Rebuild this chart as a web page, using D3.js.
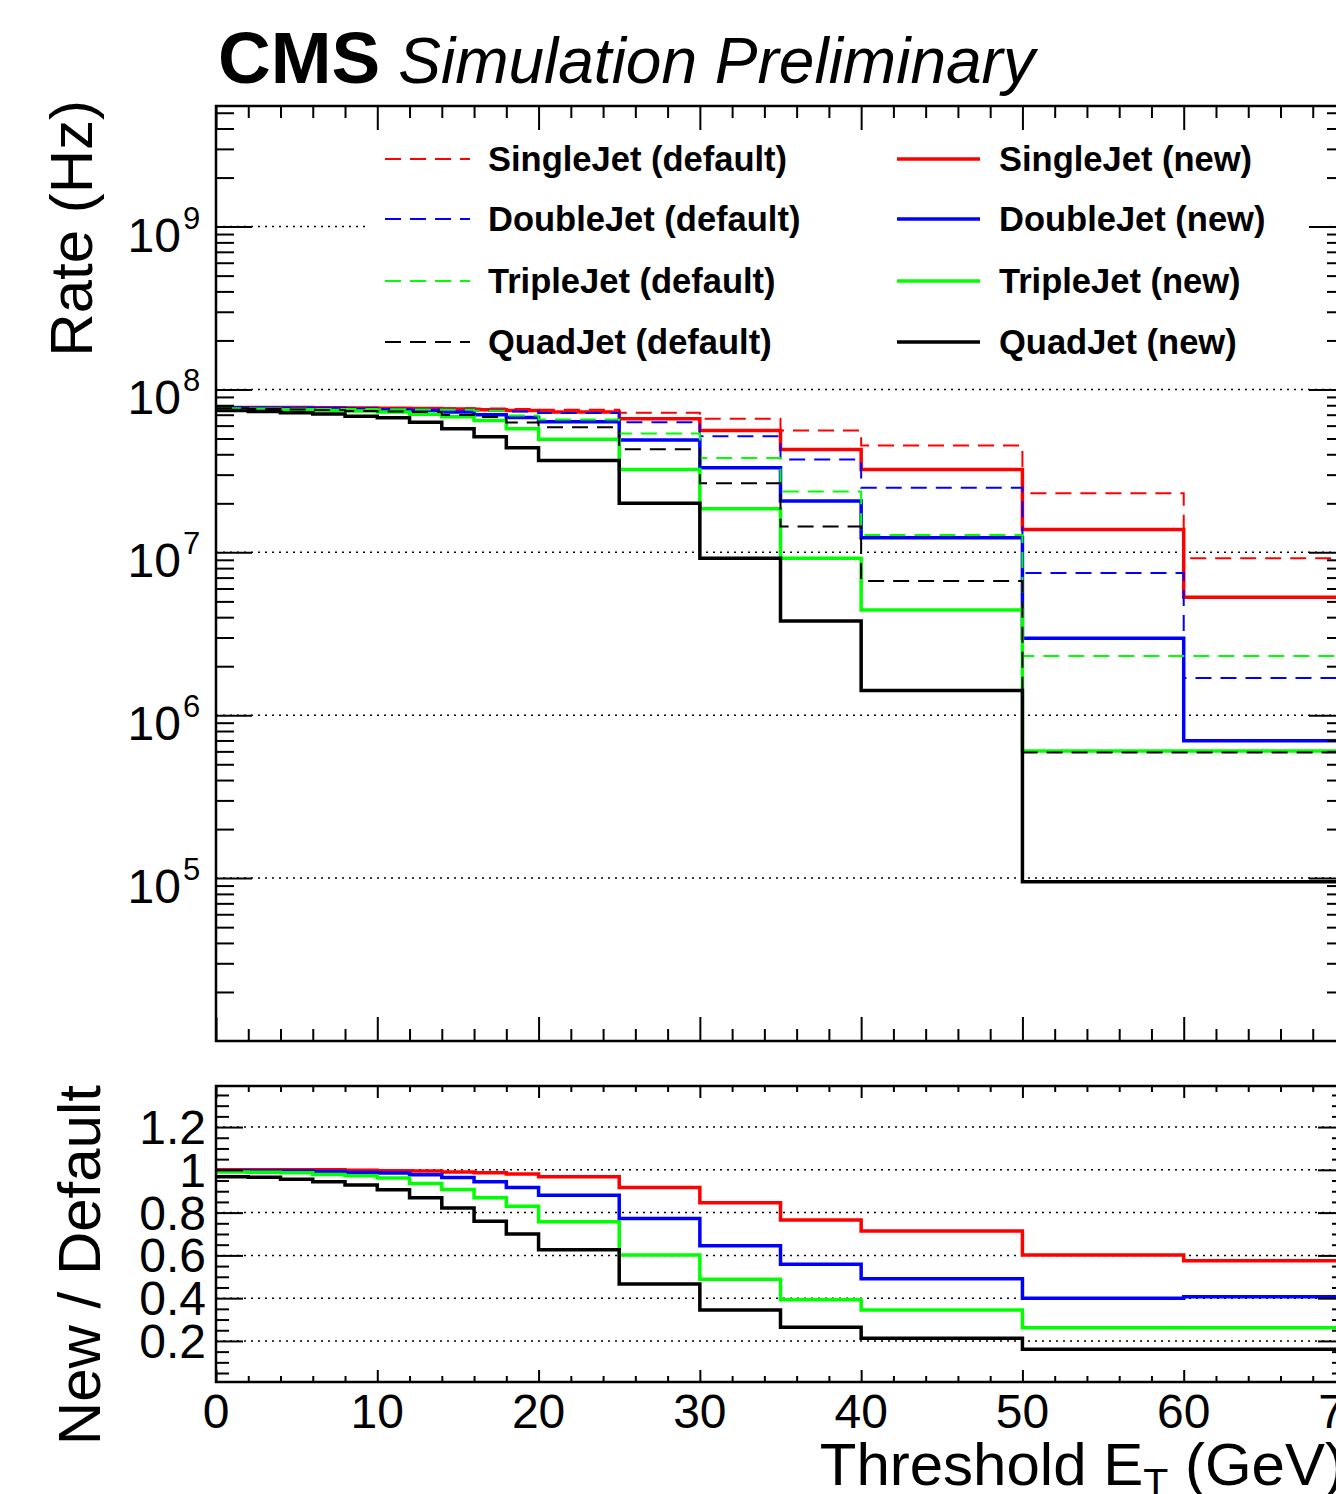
<!DOCTYPE html>
<html>
<head>
<meta charset="utf-8">
<script src="https://cdn.jsdelivr.net/npm/d3@7"></script>
<style>
  body { margin: 0; background: #fff; }
  svg { display: block; }
  text { font-family: 'Liberation Sans', Arial, Helvetica, sans-serif; fill: #000; }
</style>
</head>
<body>
<svg width="1336" height="1494"></svg>
<script>
// bin edges of the threshold histograms (GeV)
const edges = [0, 2, 4, 6, 8, 10, 12, 14, 16, 18, 20, 25, 30, 35, 40, 50, 60, 70];

// rates (Hz), one value per bin
const singleDefault = [7.75e7, 7.75e7, 7.74e7, 7.73e7, 7.72e7, 7.70e7, 7.68e7, 7.66e7, 7.63e7, 7.60e7, 7.52e7, 7.20e7, 6.61e7, 5.60e7, 4.53e7, 2.31e7, 9.19e6];
const singleNew     = [7.75e7, 7.75e7, 7.74e7, 7.73e7, 7.70e7, 7.67e7, 7.63e7, 7.58e7, 7.52e7, 7.43e7, 7.28e7, 6.61e7, 5.60e7, 4.28e7, 3.23e7, 1.38e7, 5.30e6];
const doubleDefault = [7.74e7, 7.73e7, 7.71e7, 7.69e7, 7.66e7, 7.62e7, 7.57e7, 7.50e7, 7.42e7, 7.33e7, 7.18e7, 6.30e7, 5.17e7, 3.72e7, 2.49e7, 7.46e6, 1.69e6];
const doubleNew     = [7.71e7, 7.69e7, 7.66e7, 7.63e7, 7.57e7, 7.51e7, 7.42e7, 7.26e7, 7.00e7, 6.73e7, 6.33e7, 4.89e7, 3.31e7, 2.07e7, 1.23e7, 2.97e6, 6.96e5];
const tripleDefault = [7.66e7, 7.64e7, 7.62e7, 7.60e7, 7.59e7, 7.57e7, 7.54e7, 7.51e7, 7.41e7, 6.92e7, 6.55e7, 5.37e7, 3.79e7, 2.36e7, 1.28e7, 2.31e6, 2.31e6];
const tripleNew     = [7.58e7, 7.55e7, 7.51e7, 7.43e7, 7.38e7, 7.28e7, 7.05e7, 6.80e7, 6.45e7, 5.74e7, 4.95e7, 3.23e7, 1.85e7, 9.20e6, 4.43e6, 6.04e5, 6.04e5];
const quadDefault   = [7.68e7, 7.60e7, 7.54e7, 7.47e7, 7.38e7, 7.33e7, 7.26e7, 6.97e7, 6.77e7, 6.28e7, 5.87e7, 4.29e7, 2.66e7, 1.44e7, 6.67e6, 5.90e5, 5.90e5];
const quadNew       = [7.43e7, 7.33e7, 7.20e7, 7.06e7, 6.86e7, 6.71e7, 6.30e7, 5.74e7, 5.13e7, 4.39e7, 3.67e7, 2.00e7, 9.19e6, 3.79e6, 1.42e6, 9.49e4, 9.49e4];

// new / default
const singleRatio = [1.0, 1.0, 1.0, 1.0, 0.998, 0.996, 0.994, 0.99, 0.986, 0.98, 0.968, 0.918, 0.846, 0.765, 0.714, 0.602, 0.575];
const doubleRatio = [0.996, 0.995, 0.994, 0.992, 0.988, 0.985, 0.977, 0.964, 0.944, 0.918, 0.881, 0.773, 0.645, 0.558, 0.491, 0.40, 0.407];
const tripleRatio = [0.990, 0.989, 0.986, 0.978, 0.972, 0.962, 0.936, 0.908, 0.870, 0.830, 0.757, 0.602, 0.488, 0.392, 0.345, 0.262, 0.262];
const quadRatio   = [0.968, 0.965, 0.956, 0.944, 0.929, 0.907, 0.870, 0.821, 0.760, 0.700, 0.626, 0.466, 0.345, 0.264, 0.213, 0.161, 0.161];

const names  = ['SingleJet', 'DoubleJet', 'TripleJet', 'QuadJet'];
const colors = ['#ff0000', '#0000ff', '#00ff00', '#000000'];

const rateTicks  = [1e5, 1e6, 1e7, 1e8, 1e9];
const ratioTicks = [0.2, 0.4, 0.6, 0.8, 1.0, 1.2];
const xTicks     = [0, 10, 20, 30, 40, 50, 60, 70];

const series = names.map((name, i) => ({
    name: name,
    color: colors[i],
    def: [singleDefault, doubleDefault, tripleDefault, quadDefault][i],
    nw: [singleNew, doubleNew, tripleNew, quadNew][i],
    ratio: [singleRatio, doubleRatio, tripleRatio, quadRatio][i]
}));

const svg = d3.select('svg');

const left = 216, right = 1345;
const topY0 = 106, topY1 = 1041;
const botY0 = 1086, botY1 = 1382;

const x  = d3.scaleLinear().domain([0, 70]).range([left, right]);
const y  = d3.scaleLog().domain([1e4, 5.5e9]).range([topY1, topY0]);
const yr = d3.scaleLinear().domain([0.008, 1.392]).range([botY1, botY0]);

function stepPath(yScale, vals) {
    const pts = vals.map((v, i) => [edges[i], v]);
    pts.push([edges[edges.length - 1], vals[vals.length - 1]]);
    return d3.line()
        .x(d => x(d[0]))
        .y(d => yScale(d[1]))
        .curve(d3.curveStepAfter)(pts);
}

function ticks(axis, transform, values, size) {
    svg.append('g')
        .attr('transform', transform)
        .call(axis.tickValues(values).tickSize(size).tickFormat(''))
        .call(g => g.select('.domain').remove())
        .call(g => g.selectAll('line').attr('stroke', '#000').attr('stroke-width', 2));
}

// clip regions
const defs = svg.append('defs');
defs.append('clipPath').attr('id', 'clipTop').append('rect')
    .attr('x', left).attr('y', topY0).attr('width', right - left).attr('height', topY1 - topY0);
defs.append('clipPath').attr('id', 'clipBot').append('rect')
    .attr('x', left).attr('y', botY0).attr('width', right - left).attr('height', botY1 - botY0);

// ---------- top pad ----------
svg.append('g').selectAll('line')
    .data(rateTicks)
    .join('line')
    .attr('x1', left).attr('x2', right)
    .attr('y1', d => y(d)).attr('y2', d => y(d))
    .attr('stroke', '#000').attr('stroke-width', 1.5)
    .attr('stroke-dasharray', '2,5');

// legend background hides the grid behind it
svg.append('rect')
    .attr('x', 368).attr('y', 128).attr('width', 962).attr('height', 240)
    .attr('fill', '#fff');

const gTop = svg.append('g').attr('clip-path', 'url(#clipTop)');
series.forEach(s => {
    gTop.append('path')
        .attr('d', stepPath(y, s.nw))
        .attr('fill', 'none').attr('stroke', s.color).attr('stroke-width', 3.5);
});
series.forEach(s => {
    gTop.append('path')
        .attr('d', stepPath(y, s.def))
        .attr('fill', 'none').attr('stroke', s.color).attr('stroke-width', 2)
        .attr('stroke-dasharray', '16,9');
});

// log ticks
const logMinor = [];
for (let e = 4; e <= 9; e++) {
    for (let m = 2; m <= 9; m++) {
        const v = m * Math.pow(10, e);
        if (v < 5.5e9) logMinor.push(v);
    }
}
const xMinor = d3.range(0, 71, 2).filter(d => d % 10 !== 0);

ticks(d3.axisLeft(y), `translate(${left},0)`, logMinor, -18);
ticks(d3.axisLeft(y), `translate(${left},0)`, rateTicks, -36);
ticks(d3.axisRight(y), `translate(${right},0)`, logMinor, -18);
ticks(d3.axisRight(y), `translate(${right},0)`, rateTicks, -36);
ticks(d3.axisBottom(x), `translate(0,${topY1})`, xMinor, -12);
ticks(d3.axisBottom(x), `translate(0,${topY1})`, xTicks, -24);
ticks(d3.axisTop(x), `translate(0,${topY0})`, xMinor, -12);
ticks(d3.axisTop(x), `translate(0,${topY0})`, xTicks, -24);

// y labels 10^n
const yl = svg.append('g').selectAll('g').data(rateTicks).join('g');
yl.append('text')
    .attr('x', 181).attr('y', d => y(d) + 25)
    .attr('text-anchor', 'end').attr('font-size', 48)
    .text('10');
yl.append('text')
    .attr('x', 183).attr('y', d => y(d) + 2)
    .attr('font-size', 31)
    .text(d => Math.round(Math.log10(d)));

// legend
const legY = [159, 219, 281, 342];
series.forEach((s, i) => {
    svg.append('line')
        .attr('x1', 385).attr('x2', 470).attr('y1', legY[i]).attr('y2', legY[i])
        .attr('stroke', s.color).attr('stroke-width', 2).attr('stroke-dasharray', '16,9');
    svg.append('text')
        .attr('x', 488).attr('y', legY[i] + 12)
        .attr('font-size', 34.5).attr('font-weight', 'bold')
        .text(s.name + ' (default)');
    svg.append('line')
        .attr('x1', 897).attr('x2', 980).attr('y1', legY[i]).attr('y2', legY[i])
        .attr('stroke', s.color).attr('stroke-width', 3.5);
    svg.append('text')
        .attr('x', 999).attr('y', legY[i] + 12)
        .attr('font-size', 34.5).attr('font-weight', 'bold')
        .text(s.name + ' (new)');
});

svg.append('rect')
    .attr('x', left).attr('y', topY0).attr('width', right - left).attr('height', topY1 - topY0)
    .attr('fill', 'none').attr('stroke', '#000').attr('stroke-width', 2.5);

// ---------- ratio pad ----------
svg.append('g').selectAll('line')
    .data(ratioTicks)
    .join('line')
    .attr('x1', left).attr('x2', right)
    .attr('y1', d => yr(d)).attr('y2', d => yr(d))
    .attr('stroke', '#000').attr('stroke-width', 1.5)
    .attr('stroke-dasharray', '2,5');

const gBot = svg.append('g').attr('clip-path', 'url(#clipBot)');
series.forEach(s => {
    gBot.append('path')
        .attr('d', stepPath(yr, s.ratio))
        .attr('fill', 'none').attr('stroke', s.color).attr('stroke-width', 3.5);
});

const rMinor = d3.range(1, 28).map(d => d * 0.05).filter(d => Math.abs(d * 5 - Math.round(d * 5)) > 1e-6);
ticks(d3.axisLeft(yr), `translate(${left},0)`, rMinor, -13);
ticks(d3.axisLeft(yr), `translate(${left},0)`, ratioTicks, -27);
ticks(d3.axisRight(yr), `translate(${right},0)`, rMinor, -13);
ticks(d3.axisRight(yr), `translate(${right},0)`, ratioTicks, -27);
ticks(d3.axisBottom(x), `translate(0,${botY1})`, xMinor, -6);
ticks(d3.axisBottom(x), `translate(0,${botY1})`, xTicks, -12);
ticks(d3.axisTop(x), `translate(0,${botY0})`, xMinor, -6);
ticks(d3.axisTop(x), `translate(0,${botY0})`, xTicks, -12);

svg.append('g').selectAll('text')
    .data(ratioTicks)
    .join('text')
    .attr('x', 206).attr('y', d => yr(d) + 17)
    .attr('text-anchor', 'end').attr('font-size', 48)
    .text(d => String(+d.toFixed(1)));

svg.append('g').selectAll('text')
    .data(xTicks)
    .join('text')
    .attr('x', d => x(d)).attr('y', 1428)
    .attr('text-anchor', 'middle').attr('font-size', 48)
    .text(d => d);

svg.append('rect')
    .attr('x', left).attr('y', botY0).attr('width', right - left).attr('height', botY1 - botY0)
    .attr('fill', 'none').attr('stroke', '#000').attr('stroke-width', 2.5);

// ---------- titles ----------
svg.append('text')
    .attr('transform', 'translate(92,100) rotate(-90)')
    .attr('text-anchor', 'end').attr('font-size', 60)
    .text('Rate (Hz)');

svg.append('text')
    .attr('transform', 'translate(100,1085) rotate(-90)')
    .attr('text-anchor', 'end').attr('font-size', 60)
    .text('New / Default');

const xt = svg.append('text')
    .attr('x', right).attr('y', 1485)
    .attr('text-anchor', 'end').attr('font-size', 60);
xt.append('tspan').text('Threshold E');
xt.append('tspan').attr('font-size', 41).attr('dy', 12).text('T');
xt.append('tspan').attr('dy', -12).text(' (GeV)');

const title = svg.append('text').attr('x', 218).attr('y', 83);
title.append('tspan').attr('font-size', 73).attr('font-weight', 'bold').text('CMS');
title.append('tspan').attr('font-size', 64).attr('font-style', 'italic').attr('dx', 18).text('Simulation Preliminary');
</script>
</body>
</html>
